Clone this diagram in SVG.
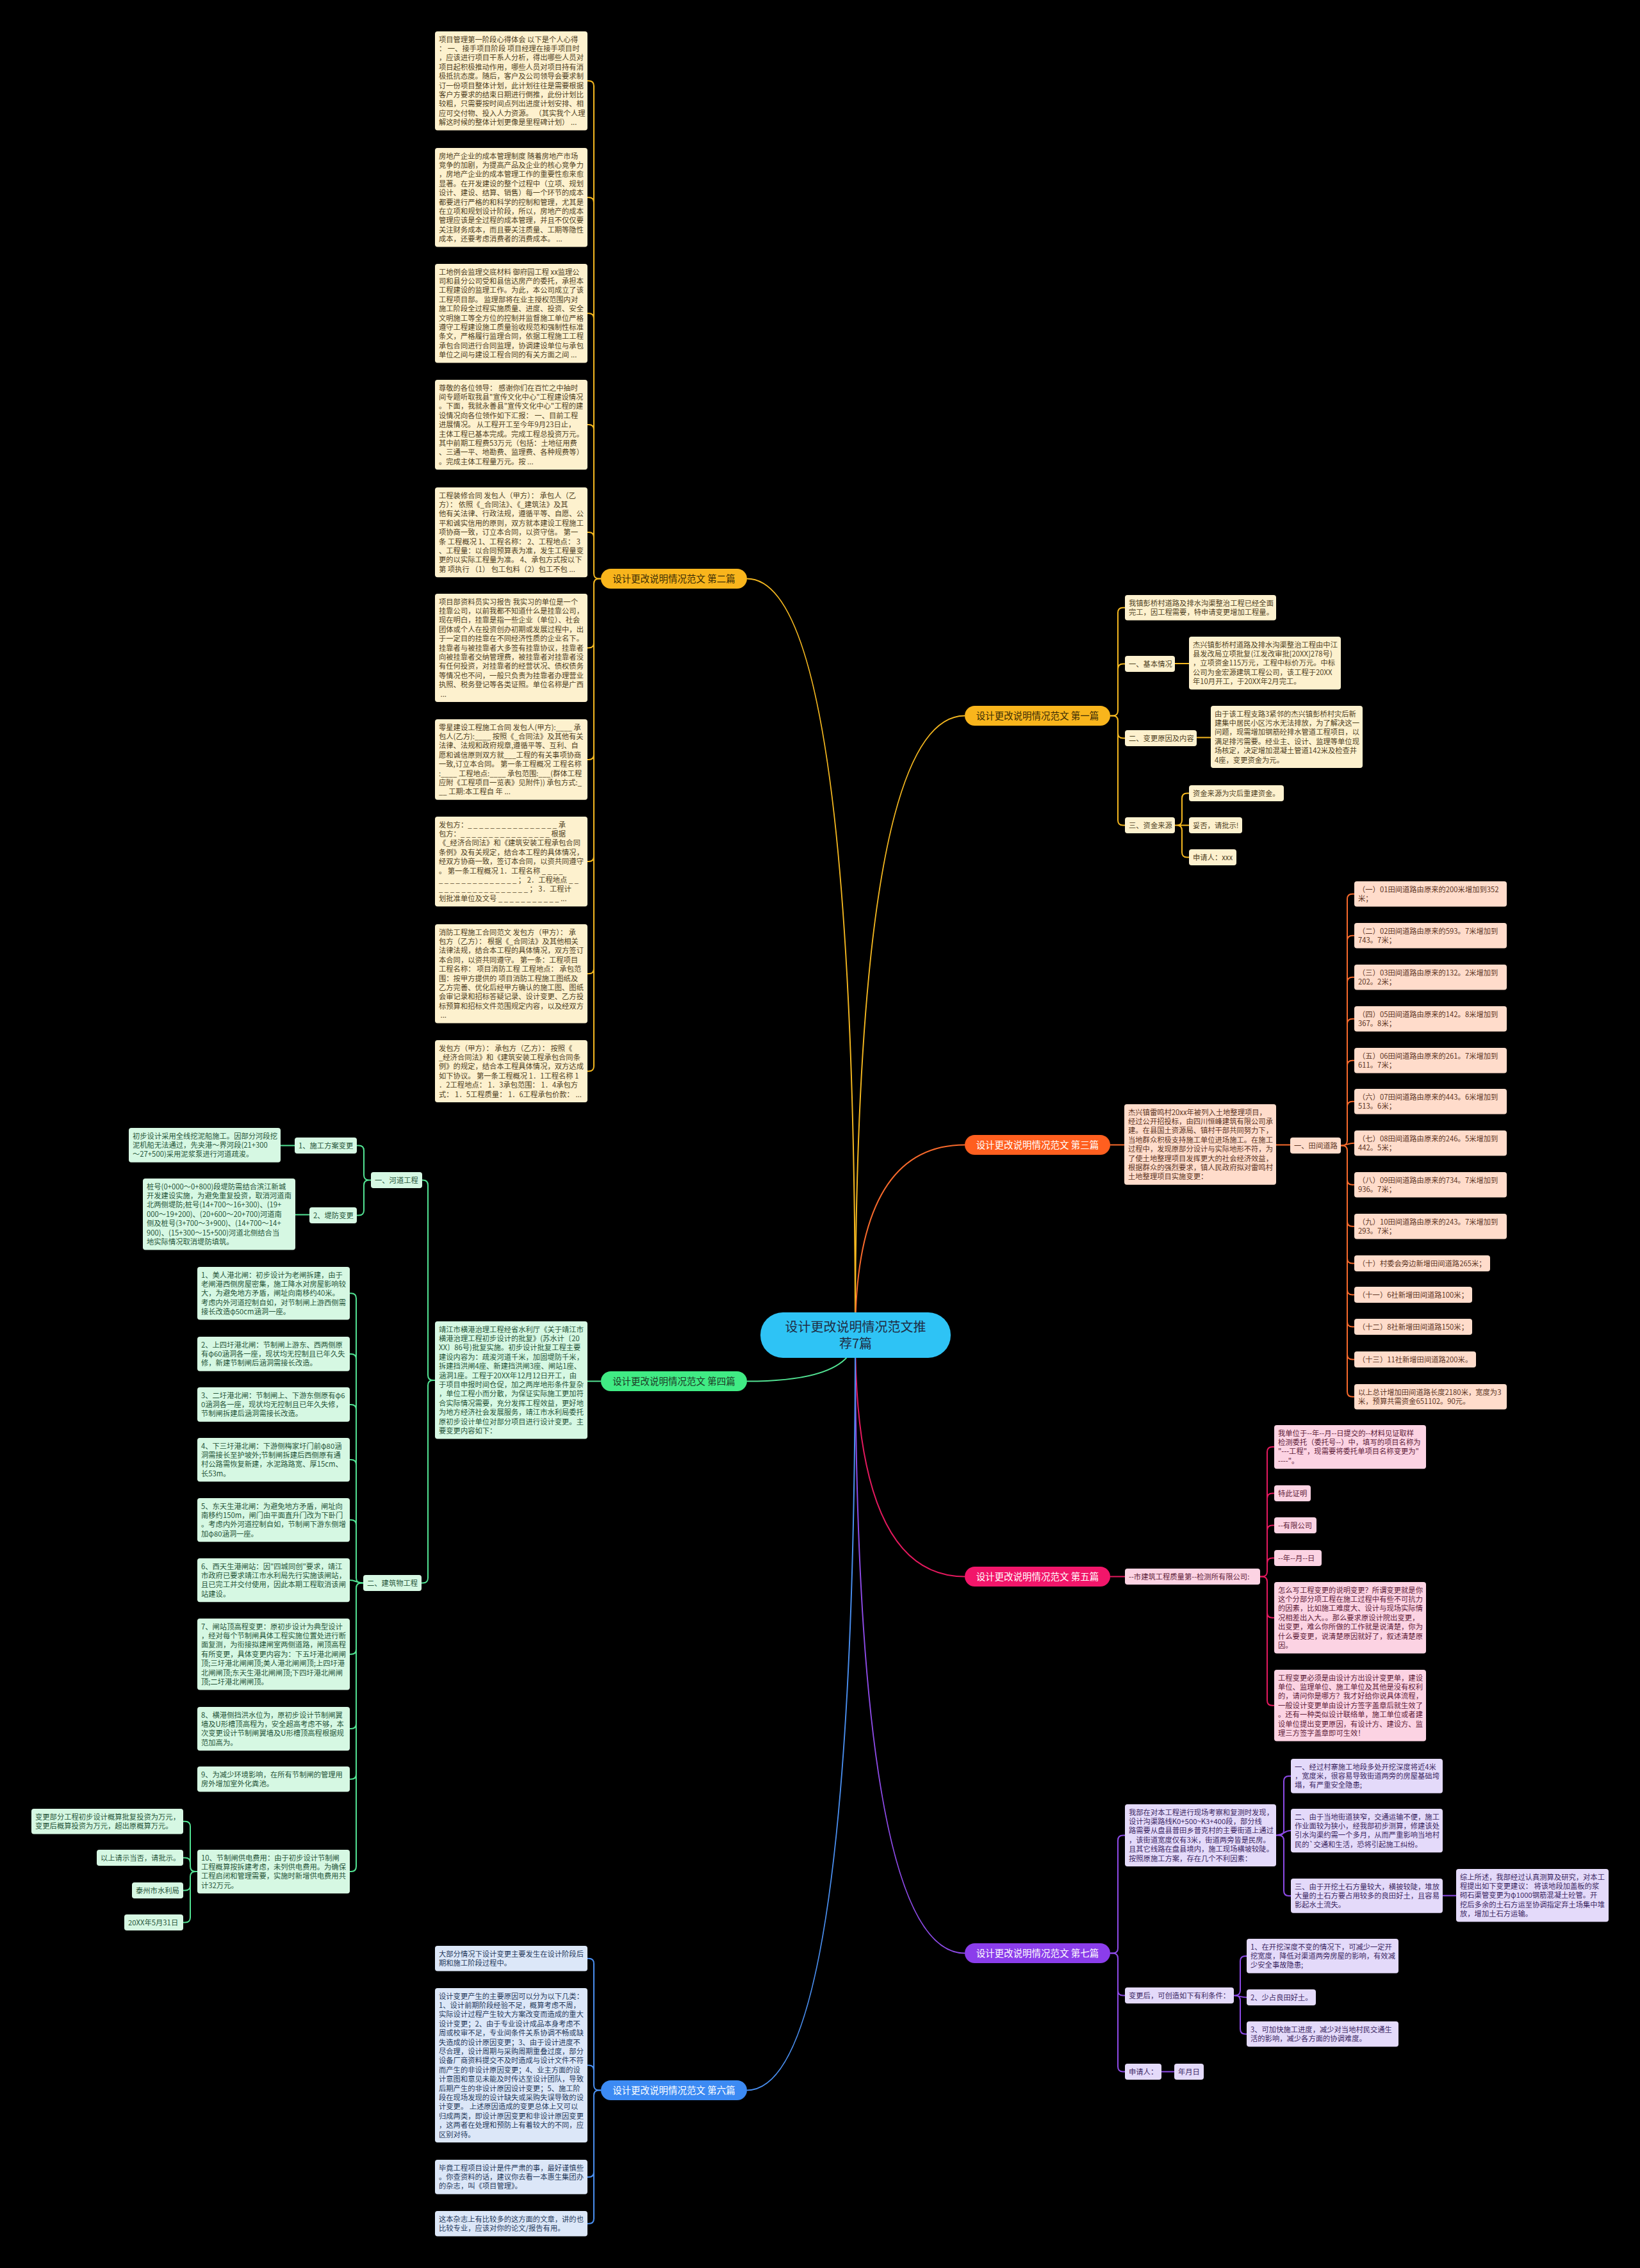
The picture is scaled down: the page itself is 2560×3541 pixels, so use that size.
<svg xmlns="http://www.w3.org/2000/svg" width="2560" height="3541" viewBox="0 0 2560 3541">
<style>
.t{font-family:"Noto Sans CJK SC","Noto Sans",sans-serif;font-size:11.3px}
.pl{font-family:"Noto Sans CJK SC","Noto Sans",sans-serif;font-size:14.5px;text-anchor:middle}
.ty{fill:#50421f}.tg{fill:#27553a}.to{fill:#5c3524}.tp{fill:#5e2139}.tu{fill:#3c2863}.tb{fill:#263a5c}
.by{fill:#FDF1CE}.bg{fill:#D6F8E3}.bo{fill:#FFDCCB}.bp{fill:#FCD3E3}.bu{fill:#E4DAFA}.bb{fill:#DCE7F8}
.c{fill:none;stroke-width:2}
.cy{stroke:#F5B820}.co{stroke:#F86A2C}.cp{stroke:#E5195F}.cu{stroke:#8E4BE8}.cb{stroke:#4A8FF0}.cg{stroke:#52E393}
</style>
<rect x="0" y="0" width="2560" height="3541" fill="#000"/>
<g id="connectors">
<path class="c cy" d="M1335 2085Q1335 903.5 1166 903.5"/>
<path class="c cy" d="M1335 2085Q1335 1117.5 1506 1117.5"/>
<path class="c co" d="M1335 2085Q1335 1787.5 1506 1787.5"/>
<path class="c cp" d="M1335 2085Q1335 2461.5 1506 2461.5"/>
<path class="c cu" d="M1335 2085Q1335 3049.5 1506 3049.5"/>
<path class="c cg" d="M1335 2085Q1335 2156.5 1166 2156.5"/>
<path class="c cb" d="M1335 2085Q1335 3263.5 1166 3263.5"/>
<path class="c cy" d="M938 903.5H935Q927 903.5 927 895.5V134.3Q927 126.3 919 126.3H917M927 316.3Q927 308.3 919 308.3H917M927 497.3Q927 489.3 919 489.3H917M927 671.1Q927 663.1 919 663.1H917M927 839.1Q927 831.1 919 831.1H917"/>
<path class="c cy" d="M938 903.5H935Q927 903.5 927 911.5V1664.5Q927 1672.5 919 1672.5H917M927 1003.5Q927 1011.5 919 1011.5H917M927 1177.9Q927 1185.9 919 1185.9H917M927 1337.1Q927 1345.1 919 1345.1H917M927 1512.3Q927 1520.3 919 1520.3H917"/>
<path class="c cy" d="M1733 1117.5H1737Q1745 1117.5 1745 1109.5V956.7Q1745 948.7 1753 948.7H1756M1745 1044.5Q1745 1036.5 1753 1036.5H1756"/>
<path class="c cy" d="M1733 1117.5H1737Q1745 1117.5 1745 1125.5V1280.5Q1745 1288.5 1753 1288.5H1756M1745 1144.5Q1745 1152.5 1753 1152.5H1756"/>
<path class="c cy" d="M1834 1036H1856M1868 1151.5H1890"/>
<path class="c cy" d="M1834 1288.5H1856M1834 1288.5H1837Q1845 1288.5 1845 1280.5V1246.5Q1845 1238.5 1853 1238.5H1856M1834 1288.5H1837Q1845 1288.5 1845 1296.5V1330.5Q1845 1338.5 1853 1338.5H1856"/>
<path class="c co" d="M1733 1787.5H1755M1992 1787.5H2014"/>
<path class="c co" d="M2092 1788.5H2095Q2103 1788.5 2103 1780.5V1403.7Q2103 1395.7 2111 1395.7H2114M2103 1468.7Q2103 1460.7 2111 1460.7H2114M2103 1533.7Q2103 1525.7 2111 1525.7H2114M2103 1598.7Q2103 1590.7 2111 1590.7H2114M2103 1663.7Q2103 1655.7 2111 1655.7H2114M2103 1727.7Q2103 1719.7 2111 1719.7H2114"/>
<path class="c co" d="M2092 1788.5C2103 1788.5 2103 1784.7 2114 1784.7"/>
<path class="c co" d="M2092 1788.5H2095Q2103 1788.5 2103 1796.5V2172.7Q2103 2180.7 2111 2180.7H2114M2103 1841.7Q2103 1849.7 2111 1849.7H2114M2103 1906.7Q2103 1914.7 2111 1914.7H2114M2103 1964.5Q2103 1972.5 2111 1972.5H2114M2103 2013.5Q2103 2021.5 2111 2021.5H2114M2103 2063.5Q2103 2071.5 2111 2071.5H2114M2103 2114.5Q2103 2122.5 2111 2122.5H2114"/>
<path class="c cp" d="M1733 2461.5H1756"/>
<path class="c cp" d="M1967 2461.5H1970Q1978 2461.5 1978 2453.5V2267Q1978 2259 1986 2259H1989M1978 2339.5Q1978 2331.5 1986 2331.5H1989M1978 2389.5Q1978 2381.5 1986 2381.5H1989M1978 2440.5Q1978 2432.5 1986 2432.5H1989"/>
<path class="c cp" d="M1967 2461.5H1970Q1978 2461.5 1978 2469.5V2654.7Q1978 2662.7 1986 2662.7H1989M1978 2517.7Q1978 2525.7 1986 2525.7H1989"/>
<path class="c cu" d="M1733 3049.5H1737Q1745 3049.5 1745 3041.5V2873.5Q1745 2865.5 1753 2865.5H1756"/>
<path class="c cu" d="M1733 3049.5H1737Q1745 3049.5 1745 3057.5V3226.5Q1745 3234.5 1753 3234.5H1756M1745 3107.5Q1745 3115.5 1753 3115.5H1756"/>
<path class="c cu" d="M1992 2865.5H1996Q2004 2865.5 2004 2857.5V2780.9Q2004 2772.9 2012 2772.9H2015M1992 2865.5C2004 2865.5 2004 2858.1 2015 2858.1M1992 2865.5H1996Q2004 2865.5 2004 2873.5V2951.9Q2004 2959.9 2012 2959.9H2015"/>
<path class="c cu" d="M2252 2959.6H2273"/>
<path class="c cu" d="M1924 3115.5H1928Q1936 3115.5 1936 3107.5V3061.9Q1936 3053.9 1944 3053.9H1946M1924 3115.5C1936 3115.5 1936 3118.5 1946 3118.5M1924 3115.5H1928Q1936 3115.5 1936 3123.5V3167.7Q1936 3175.7 1944 3175.7H1946"/>
<path class="c cu" d="M1811 3234.5H1833"/>
<path class="c cb" d="M938 3263.5H935Q927 3263.5 927 3255.5V3065.7Q927 3057.7 919 3057.7H917M927 3232.5Q927 3224.5 919 3224.5H917"/>
<path class="c cb" d="M938 3263.5H935Q927 3263.5 927 3271.5V3463.7Q927 3471.7 919 3471.7H917M927 3390.9Q927 3398.9 919 3398.9H917"/>
<path class="c cg" d="M938 2156.5H917"/>
<path class="c cg" d="M679 2155H676Q668 2155 668 2147V1850.5Q668 1842.5 660 1842.5H658M679 2155H676Q668 2155 668 2163V2463.5Q668 2471.5 660 2471.5H657"/>
<path class="c cg" d="M579 1842.5H576Q568 1842.5 568 1834.5V1796.5Q568 1788.5 560 1788.5H557M579 1842.5H576Q568 1842.5 568 1850.5V1889.5Q568 1897.5 560 1897.5H557"/>
<path class="c cg" d="M460 1788.5H438M483 1896.5H461"/>
<path class="c cg" d="M567 2471.5H564Q556 2471.5 556 2463.5V2027.3Q556 2019.3 548 2019.3H545M556 2121.9Q556 2113.9 548 2113.9H545M556 2200.9Q556 2192.9 548 2192.9H545M556 2287.1Q556 2279.1 548 2279.1H545M556 2381.1Q556 2373.1 548 2373.1H545M567 2471.5C556 2471.5 556 2467.1 545 2467.1"/>
<path class="c cg" d="M567 2471.5H564Q556 2471.5 556 2479.5V2914.1Q556 2922.1 548 2922.1H545M556 2574.7Q556 2582.7 548 2582.7H545M556 2691.1Q556 2699.1 548 2699.1H545M556 2769.7Q556 2777.7 548 2777.7H545"/>
<path class="c cg" d="M308 2922.1H305Q297 2922.1 297 2914.1V2851.7Q297 2843.7 289 2843.7H286M297 2908.5Q297 2900.5 289 2900.5H286M308 2922.1H305Q297 2922.1 297 2930.1V2993.5Q297 3001.5 289 3001.5H286M297 2943.5Q297 2951.5 289 2951.5H286"/>
</g>
<g id="root">
<rect x="1187" y="2049" width="297" height="71" rx="35" fill="#2EC3F5"/>
<text x="1335.5" y="2079" font-family="Noto Sans CJK SC, sans-serif" font-size="20" fill="#1f2d44" text-anchor="middle">设计更改说明情况范文推</text>
<text x="1335.5" y="2105" font-family="Noto Sans CJK SC, sans-serif" font-size="20" fill="#1f2d44" text-anchor="middle">荐7篇</text>
</g>
<g id="b2"><rect x="938" y="888" width="228" height="31" rx="15.5" fill="#F9B51C"/><text class="pl" x="1052" y="908.5" fill="#3a2c05">设计更改说明情况范文 第二篇</text></g>
<g id="b1"><rect x="1506" y="1102" width="227" height="31" rx="15.5" fill="#F9B51C"/><text class="pl" x="1619.5" y="1122.5" fill="#3a2c05">设计更改说明情况范文 第一篇</text></g>
<g id="b3"><rect x="1506" y="1772" width="227" height="31" rx="15.5" fill="#FF5F1F"/><text class="pl" x="1619.5" y="1792.5" fill="#fff">设计更改说明情况范文 第三篇</text></g>
<g id="b5"><rect x="1506" y="2446" width="227" height="31" rx="15.5" fill="#F2166A"/><text class="pl" x="1619.5" y="2466.5" fill="#fff">设计更改说明情况范文 第五篇</text></g>
<g id="b7"><rect x="1506" y="3034" width="227" height="31" rx="15.5" fill="#8B3DEB"/><text class="pl" x="1619.5" y="3054.5" fill="#fff">设计更改说明情况范文 第七篇</text></g>
<g id="b4"><rect x="938" y="2141" width="228" height="31" rx="15.5" fill="#40EB84"/><text class="pl" x="1052" y="2161.5" fill="#1c3a26">设计更改说明情况范文 第四篇</text></g>
<g id="b6"><rect x="938" y="3248" width="228" height="31" rx="15.5" fill="#3C8AF3"/><text class="pl" x="1052" y="3268.5" fill="#fff">设计更改说明情况范文 第六篇</text></g>

<g id="y-a"><rect class="by" x="679" y="49" width="238" height="154.6" rx="4"/><text class="t ty" x="685" y="65.6"><tspan>项目管理第一阶段心得体会 以下是个人心得</tspan><tspan x="685" dy="14.4">： 一、接手项目阶段 项目经理在接手项目时</tspan><tspan x="685" dy="14.4">，应该进行项目干系人分析，得出哪些人员对</tspan><tspan x="685" dy="14.4">项目起积极推动作用，哪些人员对项目持有消</tspan><tspan x="685" dy="14.4">极抵抗态度。随后，客户及公司领导会要求制</tspan><tspan x="685" dy="14.4">订一份项目整体计划，此计划往往是需要根据</tspan><tspan x="685" dy="14.4">客户方要求的结束日期进行倒推，此份计划比</tspan><tspan x="685" dy="14.4">较粗，只需要按时间点列出进度计划安排、相</tspan><tspan x="685" dy="14.4">应可交付物、投入人力资源。 （其实我个人理</tspan><tspan x="685" dy="14.4">解这时候的整体计划更像是里程碑计划） ...</tspan></text></g>
<g id="y-b"><rect class="by" x="679" y="231" width="238" height="154.6" rx="4"/><text class="t ty" x="685" y="247.6"><tspan>房地产企业的成本管理制度 随着房地产市场</tspan><tspan x="685" dy="14.4">竞争的加剧，为提高产品及企业的核心竞争力</tspan><tspan x="685" dy="14.4">，房地产企业的成本管理工作的重要性愈来愈</tspan><tspan x="685" dy="14.4">显著。在开发建设的整个过程中（立项、规划</tspan><tspan x="685" dy="14.4">设计、建设、结算、销售）每一个环节的成本</tspan><tspan x="685" dy="14.4">都要进行严格的和科学的控制和管理，尤其是</tspan><tspan x="685" dy="14.4">在立项和规划设计阶段，所以，房地产的成本</tspan><tspan x="685" dy="14.4">管理应该是全过程的成本管理，并且不仅仅要</tspan><tspan x="685" dy="14.4">关注财务成本，而且要关注质量、工期等隐性</tspan><tspan x="685" dy="14.4">成本，还要考虑消费者的消费成本。 ...</tspan></text></g>
<g id="y-c"><rect class="by" x="679" y="412" width="238" height="154.6" rx="4"/><text class="t ty" x="685" y="428.6"><tspan>工地例会监理交底材料 御府园工程 xx监理公</tspan><tspan x="685" dy="14.4">司和县分公司受和县信达房产的委托，承担本</tspan><tspan x="685" dy="14.4">工程建设的监理工作。为此，本公司成立了该</tspan><tspan x="685" dy="14.4">工程项目部。 监理部将在业主授权范围内对</tspan><tspan x="685" dy="14.4">施工阶段全过程实施质量、进度、投资、安全</tspan><tspan x="685" dy="14.4">文明施工等全方位的控制并监督施工单位严格</tspan><tspan x="685" dy="14.4">遵守工程建设施工质量验收规范和强制性标准</tspan><tspan x="685" dy="14.4">条文，严格履行监理合同，依据工程施工工程</tspan><tspan x="685" dy="14.4">承包合同进行合同监理，协调建设单位与承包</tspan><tspan x="685" dy="14.4">单位之间与建设工程合同的有关方面之间 ...</tspan></text></g>
<g id="y-d"><rect class="by" x="679" y="593" width="238" height="140.2" rx="4"/><text class="t ty" x="685" y="609.6"><tspan>尊敬的各位领导： 感谢你们在百忙之中抽时</tspan><tspan x="685" dy="14.4">间专题听取我县"宣传文化中心"工程建设情况</tspan><tspan x="685" dy="14.4">。下面，我就永善县"宣传文化中心"工程的建</tspan><tspan x="685" dy="14.4">设情况向各位领作如下汇报： 一、目前工程</tspan><tspan x="685" dy="14.4">进展情况。 从工程开工至今年9月23日止，</tspan><tspan x="685" dy="14.4">主体工程已基本完成。完成工程总投资万元。</tspan><tspan x="685" dy="14.4">其中前期工程费53万元（包括：土地征用费</tspan><tspan x="685" dy="14.4">、三通一平、地勘费、监理费、各种规费等）</tspan><tspan x="685" dy="14.4">。完成主体工程量万元。按 ...</tspan></text></g>
<g id="y-e"><rect class="by" x="679" y="761" width="238" height="140.2" rx="4"/><text class="t ty" x="685" y="777.6"><tspan>工程装修合同 发包人（甲方）： 承包人（乙</tspan><tspan x="685" dy="14.4">方）： 依照《_合同法》、《_建筑法》及其</tspan><tspan x="685" dy="14.4">他有关法律、行政法规，遵循平等、自愿、公</tspan><tspan x="685" dy="14.4">平和诚实信用的原则，双方就本建设工程施工</tspan><tspan x="685" dy="14.4">项协商一致，订立本合同，以资守信。 第一</tspan><tspan x="685" dy="14.4">条 工程概况 1、工程名称： 2、工程地点： 3</tspan><tspan x="685" dy="14.4">、工程量：以合同预算表为准，发生工程量变</tspan><tspan x="685" dy="14.4">更的以实际工程量为准。 4、承包方式按以下</tspan><tspan x="685" dy="14.4">第 项执行 （1） 包工包料（2）包工不包 ...</tspan></text></g>
<g id="y-f"><rect class="by" x="679" y="927" width="238" height="169" rx="4"/><text class="t ty" x="685" y="943.6"><tspan>项目部资料员实习报告 我实习的单位是一个</tspan><tspan x="685" dy="14.4">挂靠公司，以前我都不知道什么是挂靠公司，</tspan><tspan x="685" dy="14.4">现在明白，挂靠是指一些企业（单位）、社会</tspan><tspan x="685" dy="14.4">团体或个人在投资创办初期或发展过程中，出</tspan><tspan x="685" dy="14.4">于一定目的挂靠在不同经济性质的企业名下。</tspan><tspan x="685" dy="14.4">挂靠者与被挂靠者大多签有挂靠协议，挂靠者</tspan><tspan x="685" dy="14.4">向被挂靠者交纳管理费，被挂靠者对挂靠者没</tspan><tspan x="685" dy="14.4">有任何投资，对挂靠者的经营状况、债权债务</tspan><tspan x="685" dy="14.4">等情况也不问，一般只负责为挂靠者办理营业</tspan><tspan x="685" dy="14.4">执照、税务登记等各类证照。单位名称是广西</tspan><tspan x="685" dy="14.4"> ...</tspan></text></g>
<g id="y-g"><rect class="by" x="679" y="1123" width="238" height="125.8" rx="4"/><text class="t ty" x="685" y="1139.6"><tspan>零星建设工程施工合同 发包人(甲方):____ 承</tspan><tspan x="685" dy="14.4">包人(乙方):____ 按照《_合同法》及其他有关</tspan><tspan x="685" dy="14.4">法律、法规和政府规章,遵循平等、互利、自</tspan><tspan x="685" dy="14.4">愿和诚信原则双方就___工程的有关事项协商</tspan><tspan x="685" dy="14.4">一致,订立本合同。 第一条工程概况 工程名称</tspan><tspan x="685" dy="14.4">:____ 工程地点:____ 承包范围:___(群体工程</tspan><tspan x="685" dy="14.4">应附《工程项目一览表》见附件)) 承包方式:_</tspan><tspan x="685" dy="14.4">__ 工期:本工程自 年 ...</tspan></text></g>
<g id="y-h"><rect class="by" x="679" y="1275" width="238" height="140.2" rx="4"/><text class="t ty" x="685" y="1291.6"><tspan>发包方：_ _ _ _ _ _ _ _ _ _ _ _ _ _ _ _ 承</tspan><tspan x="685" dy="14.4">包方：_ _ _ _ _ _ _ _ _ _ _ _ _ _ _ _ 根据</tspan><tspan x="685" dy="14.4">《_经济合同法》和《建筑安装工程承包合同</tspan><tspan x="685" dy="14.4">条例》及有关规定，结合本工程的具体情况，</tspan><tspan x="685" dy="14.4">经双方协商一致，签订本合同，以资共同遵守</tspan><tspan x="685" dy="14.4">。 第一条工程概况 1．工程名称 _ _ _ _</tspan><tspan x="685" dy="14.4">_ _ _ _ _ _ _ _ _ _ _ _ _ _ ； 2．工程地点 _ _</tspan><tspan x="685" dy="14.4">_ _ _ _ _ _ _ _ _ _ _ _ _ _ _ _ ； 3．工程计</tspan><tspan x="685" dy="14.4">划批准单位及文号 _ _ _ _ _ _ _ _ _ _ _ ...</tspan></text></g>
<g id="y-i"><rect class="by" x="679" y="1443" width="238" height="154.6" rx="4"/><text class="t ty" x="685" y="1459.6"><tspan>消防工程施工合同范文 发包方（甲方）： 承</tspan><tspan x="685" dy="14.4">包方（乙方）： 根据《_合同法》及其他相关</tspan><tspan x="685" dy="14.4">法律法规，结合本工程的具体情况，双方签订</tspan><tspan x="685" dy="14.4">本合同，以资共同遵守。 第一条：工程项目</tspan><tspan x="685" dy="14.4">工程名称： 项目消防工程 工程地点： 承包范</tspan><tspan x="685" dy="14.4">围：按甲方提供的 项目消防工程施工图纸及</tspan><tspan x="685" dy="14.4">乙方完善、优化后经甲方确认的施工图、图纸</tspan><tspan x="685" dy="14.4">会审记录和招标答疑记录、设计变更、乙方投</tspan><tspan x="685" dy="14.4">标预算和招标文件范围规定内容，以及经双方</tspan><tspan x="685" dy="14.4"> ...</tspan></text></g>
<g id="y-j"><rect class="by" x="679" y="1624" width="238" height="97" rx="4"/><text class="t ty" x="685" y="1640.6"><tspan>发包方（甲方）： 承包方（乙方）： 按照《</tspan><tspan x="685" dy="14.4">_经济合同法》和《建筑安装工程承包合同条</tspan><tspan x="685" dy="14.4">例》的规定，结合本工程具体情况，双方达成</tspan><tspan x="685" dy="14.4">如下协议。 第一条工程概况 1．1工程名称 1</tspan><tspan x="685" dy="14.4">．2工程地点： 1．3承包范围： 1．4承包方</tspan><tspan x="685" dy="14.4">式： 1．5工程质量： 1．6工程承包价款： ...</tspan></text></g>

<g id="a1-0"><rect class="by" x="1756" y="929" width="236" height="39.4" rx="4"/><text class="t ty" x="1762" y="945.6"><tspan>我镇彭桥村道路及排水沟渠整治工程已经全面</tspan><tspan x="1762" dy="14.4">完工，因工程需要，特申请变更增加工程量。</tspan></text></g>
<g id="a1-1"><rect class="by" x="1756" y="1024" width="78" height="25" rx="4"/><text class="t ty" x="1762" y="1040.6">一、基本情况</text></g>
<g id="a1-1a"><rect class="by" x="1856" y="994" width="237" height="82.6" rx="4"/><text class="t ty" x="1862" y="1010.6"><tspan>杰兴镇彭桥村道路及排水沟渠整治工程由中江</tspan><tspan x="1862" dy="14.4">县发改局立项批复(江发改审批[20XX]278号)</tspan><tspan x="1862" dy="14.4">，立项资金115万元，工程中标价万元。中标</tspan><tspan x="1862" dy="14.4">公司为金宏源建筑工程公司，该工程于20XX</tspan><tspan x="1862" dy="14.4">年10月开工，于20XX年2月完工。</tspan></text></g>
<g id="a1-2"><rect class="by" x="1756" y="1140" width="112" height="25" rx="4"/><text class="t ty" x="1762" y="1156.6">二、变更原因及内容</text></g>
<g id="a1-2a"><rect class="by" x="1890" y="1102" width="237" height="97" rx="4"/><text class="t ty" x="1896" y="1118.6"><tspan>由于该工程支路3紧邻的杰兴镇彭桥村灾后新</tspan><tspan x="1896" dy="14.4">建集中居民小区污水无法排放，为了解决这一</tspan><tspan x="1896" dy="14.4">问题，现需增加钢筋砼排水管道工程项目，以</tspan><tspan x="1896" dy="14.4">满足排污需要。经业主、设计、监理等单位现</tspan><tspan x="1896" dy="14.4">场核定，决定增加混凝土管道142米及检查井</tspan><tspan x="1896" dy="14.4">4座，变更资金为元。</tspan></text></g>
<g id="a1-3"><rect class="by" x="1756" y="1276" width="78" height="25" rx="4"/><text class="t ty" x="1762" y="1292.6">三、资金来源</text></g>
<g id="a1-3a"><rect class="by" x="1856" y="1226" width="148" height="25" rx="4"/><text class="t ty" x="1862" y="1242.6">资金来源为灾后重建资金。</text></g>
<g id="a1-3b"><rect class="by" x="1856" y="1276" width="83" height="25" rx="4"/><text class="t ty" x="1862" y="1292.6">妥否，请批示!</text></g>
<g id="a1-3c"><rect class="by" x="1856" y="1326" width="74" height="25" rx="4"/><text class="t ty" x="1862" y="1342.6">申请人：xxx</text></g>

<g id="a3-0"><rect class="bo" x="1755" y="1724" width="237" height="125.8" rx="4"/><text class="t to" x="1761" y="1740.6"><tspan>杰兴镇雷鸣村20xx年被列入土地整理项目，</tspan><tspan x="1761" dy="14.4">经过公开招投标，由四川恒峰建筑有限公司承</tspan><tspan x="1761" dy="14.4">建。在县国土资源局、镇村干部共同努力下，</tspan><tspan x="1761" dy="14.4">当地群众积极支持施工单位进场施工。在施工</tspan><tspan x="1761" dy="14.4">过程中，发现原部分设计与实际地形不符，为</tspan><tspan x="1761" dy="14.4">了使土地整理项目发挥更大的社会经济效益，</tspan><tspan x="1761" dy="14.4">根据群众的强烈要求，镇人民政府拟对雷鸣村</tspan><tspan x="1761" dy="14.4">土地整理项目实施变更：</tspan></text></g>
<g id="a3-1"><rect class="bo" x="2014" y="1776" width="79" height="25" rx="4"/><text class="t to" x="2020" y="1792.6">一、田间道路</text></g>
<g id="a3-i1"><rect class="bo" x="2114" y="1376" width="238" height="39.4" rx="4"/><text class="t to" x="2120" y="1392.6"><tspan>（一）01田间道路由原来的200米增加到352</tspan><tspan x="2120" dy="14.4">米；</tspan></text></g>
<g id="a3-i2"><rect class="bo" x="2114" y="1441" width="238" height="39.4" rx="4"/><text class="t to" x="2120" y="1457.6"><tspan>（二）02田间道路由原来的593。7米增加到</tspan><tspan x="2120" dy="14.4">743。7米；</tspan></text></g>
<g id="a3-i3"><rect class="bo" x="2114" y="1506" width="238" height="39.4" rx="4"/><text class="t to" x="2120" y="1522.6"><tspan>（三）03田间道路由原来的132。2米增加到</tspan><tspan x="2120" dy="14.4">202。2米；</tspan></text></g>
<g id="a3-i4"><rect class="bo" x="2114" y="1571" width="238" height="39.4" rx="4"/><text class="t to" x="2120" y="1587.6"><tspan>（四）05田间道路由原来的142。8米增加到</tspan><tspan x="2120" dy="14.4">367。8米；</tspan></text></g>
<g id="a3-i5"><rect class="bo" x="2114" y="1636" width="238" height="39.4" rx="4"/><text class="t to" x="2120" y="1652.6"><tspan>（五）06田间道路由原来的261。7米增加到</tspan><tspan x="2120" dy="14.4">611。7米；</tspan></text></g>
<g id="a3-i6"><rect class="bo" x="2114" y="1700" width="238" height="39.4" rx="4"/><text class="t to" x="2120" y="1716.6"><tspan>（六）07田间道路由原来的443。6米增加到</tspan><tspan x="2120" dy="14.4">513。6米；</tspan></text></g>
<g id="a3-i7"><rect class="bo" x="2114" y="1765" width="238" height="39.4" rx="4"/><text class="t to" x="2120" y="1781.6"><tspan>（七）08田间道路由原来的246。5米增加到</tspan><tspan x="2120" dy="14.4">442。5米；</tspan></text></g>
<g id="a3-i8"><rect class="bo" x="2114" y="1830" width="238" height="39.4" rx="4"/><text class="t to" x="2120" y="1846.6"><tspan>（八）09田间道路由原来的734。7米增加到</tspan><tspan x="2120" dy="14.4">936。7米；</tspan></text></g>
<g id="a3-i9"><rect class="bo" x="2114" y="1895" width="238" height="39.4" rx="4"/><text class="t to" x="2120" y="1911.6"><tspan>（九）10田间道路由原来的243。7米增加到</tspan><tspan x="2120" dy="14.4">293。7米；</tspan></text></g>
<g id="a3-i10"><rect class="bo" x="2114" y="1960" width="212" height="25" rx="4"/><text class="t to" x="2120" y="1976.6">（十）村委会旁边新增田间道路265米；</text></g>
<g id="a3-i11"><rect class="bo" x="2114" y="2009" width="184" height="25" rx="4"/><text class="t to" x="2120" y="2025.6">（十一）6社新增田间道路100米；</text></g>
<g id="a3-i12"><rect class="bo" x="2114" y="2059" width="184" height="25" rx="4"/><text class="t to" x="2120" y="2075.6">（十二）8社新增田间道路150米；</text></g>
<g id="a3-i13"><rect class="bo" x="2114" y="2110" width="190" height="25" rx="4"/><text class="t to" x="2120" y="2126.6">（十三）11社新增田间道路200米。</text></g>
<g id="a3-i14"><rect class="bo" x="2114" y="2161" width="238" height="39.4" rx="4"/><text class="t to" x="2120" y="2177.6"><tspan>以上总计增加田间道路长度2180米，宽度为3</tspan><tspan x="2120" dy="14.4">米，预算共需资金651102。90元。</tspan></text></g>

<g id="a5-0"><rect class="bp" x="1756" y="2449" width="211" height="25" rx="4"/><text class="t tp" x="1762" y="2465.6">--市建筑工程质量第--检测所有限公司:</text></g>
<g id="a5-1"><rect class="bp" x="1989" y="2225" width="237" height="68.2" rx="4"/><text class="t tp" x="1995" y="2241.6"><tspan>我单位于--年--月--日提交的--材料见证取样</tspan><tspan x="1995" dy="14.4">检测委托（委托号--）中，填写的项目名称为</tspan><tspan x="1995" dy="14.4">"---工程"，现需要将委托单项目名称变更为"</tspan><tspan x="1995" dy="14.4">----"。</tspan></text></g>
<g id="a5-2"><rect class="bp" x="1989" y="2319" width="57" height="25" rx="4"/><text class="t tp" x="1995" y="2335.6">特此证明</text></g>
<g id="a5-3"><rect class="bp" x="1989" y="2369" width="66" height="25" rx="4"/><text class="t tp" x="1995" y="2385.6">--有限公司</text></g>
<g id="a5-4"><rect class="bp" x="1989" y="2420" width="74" height="25" rx="4"/><text class="t tp" x="1995" y="2436.6">--年--月--日</text></g>
<g id="a5-5"><rect class="bp" x="1989" y="2470" width="237" height="111.4" rx="4"/><text class="t tp" x="1995" y="2486.6"><tspan>怎么写工程变更的说明变更？所谓变更就是你</tspan><tspan x="1995" dy="14.4">这个分部分项工程在施工过程中有些不可抗力</tspan><tspan x="1995" dy="14.4">的因素，比如施工难度大、设计与现场实际情</tspan><tspan x="1995" dy="14.4">况相差出入大。。那么要求原设计院出变更，</tspan><tspan x="1995" dy="14.4">出变更，难么你所做的工作就是说清楚，你为</tspan><tspan x="1995" dy="14.4">什么要变更，说清楚原因就好了，叙述清楚原</tspan><tspan x="1995" dy="14.4">因。</tspan></text></g>
<g id="a5-6"><rect class="bp" x="1989" y="2607" width="237" height="111.4" rx="4"/><text class="t tp" x="1995" y="2623.6"><tspan>工程变更必须是由设计方出设计变更单，建设</tspan><tspan x="1995" dy="14.4">单位、监理单位、施工单位及其他是没有权利</tspan><tspan x="1995" dy="14.4">的，请问你是哪方？我才好给你说具体流程，</tspan><tspan x="1995" dy="14.4">一般设计变更单由设计方签字盖章后就生效了</tspan><tspan x="1995" dy="14.4">。还有一种类似设计联络单，施工单位或者建</tspan><tspan x="1995" dy="14.4">设单位提出变更原因，有设计方、建设方、监</tspan><tspan x="1995" dy="14.4">理三方签字盖章即可生效！</tspan></text></g>

<g id="a7-0"><rect class="bu" x="1756" y="2817" width="236" height="97" rx="4"/><text class="t tu" x="1762" y="2833.6"><tspan>我部在对本工程进行现场考察和复测时发现，</tspan><tspan x="1762" dy="14.4">设计沟渠路线K0+500~K3+400段，部分线</tspan><tspan x="1762" dy="14.4">路需要从盘县普田乡普克村的主要街道上通过</tspan><tspan x="1762" dy="14.4">，该街道宽度仅有3米，街道两旁皆是民房。</tspan><tspan x="1762" dy="14.4">且其它线路在盘县境内，施工现场横坡较陡。</tspan><tspan x="1762" dy="14.4">按照原施工方案，存在几个不利因素：</tspan></text></g>
<g id="a7-1"><rect class="bu" x="2015" y="2746" width="237" height="53.8" rx="4"/><text class="t tu" x="2021" y="2762.6"><tspan>一、经过村寨施工地段多处开挖深度将近4米</tspan><tspan x="2021" dy="14.4">，宽度米，很容易导致街道两旁的房屋基础垮</tspan><tspan x="2021" dy="14.4">塌，有严重安全隐患;</tspan></text></g>
<g id="a7-2"><rect class="bu" x="2015" y="2824" width="237" height="68.2" rx="4"/><text class="t tu" x="2021" y="2840.6"><tspan>二、由于当地街道狭窄，交通运输不便，施工</tspan><tspan x="2021" dy="14.4">作业面较为狭小，经我部初步测算，修建该处</tspan><tspan x="2021" dy="14.4">引水沟渠约需一个多月，从而严重影响当地村</tspan><tspan x="2021" dy="14.4">民的`交通和生活，恐将引起施工纠纷。</tspan></text></g>
<g id="a7-3"><rect class="bu" x="2015" y="2933" width="237" height="53.8" rx="4"/><text class="t tu" x="2021" y="2949.6"><tspan>三、由于开挖土石方量较大，横披较陡，堆放</tspan><tspan x="2021" dy="14.4">大量的土石方要占用较多的良田好土，且容易</tspan><tspan x="2021" dy="14.4">影起水土流失。</tspan></text></g>
<g id="a7-3a"><rect class="bu" x="2273" y="2918" width="238" height="82.6" rx="4"/><text class="t tu" x="2279" y="2934.6"><tspan>综上所述，我部经过认真测算及研究，对本工</tspan><tspan x="2279" dy="14.4">程提出如下变更建议： 将该地段加盖板的浆</tspan><tspan x="2279" dy="14.4">砌石渠管变更为φ1000钢筋混凝土砼管。开</tspan><tspan x="2279" dy="14.4">挖后多余的土石方运至协调指定弃土场集中堆</tspan><tspan x="2279" dy="14.4">放，增加土石方运输。</tspan></text></g>
<g id="a7-4"><rect class="bu" x="1756" y="3103" width="170" height="25" rx="4"/><text class="t tu" x="1762" y="3119.6">变更后，可创造如下有利条件：</text></g>
<g id="a7-4a"><rect class="bu" x="1946" y="3027" width="237" height="53.8" rx="4"/><text class="t tu" x="1952" y="3043.6"><tspan>1、在开挖深度不变的情况下，可减少一定开</tspan><tspan x="1952" dy="14.4">挖宽度，降低对渠道两旁房屋的影响，有效减</tspan><tspan x="1952" dy="14.4">少安全事故隐患;</tspan></text></g>
<g id="a7-4b"><rect class="bu" x="1946" y="3106" width="108" height="25" rx="4"/><text class="t tu" x="1952" y="3122.6">2、少占良田好土。</text></g>
<g id="a7-4c"><rect class="bu" x="1946" y="3156" width="237" height="39.4" rx="4"/><text class="t tu" x="1952" y="3172.6"><tspan>3、可加快施工进度，减少对当地村民交通生</tspan><tspan x="1952" dy="14.4">活的影响，减少各方面的协调难度。</tspan></text></g>
<g id="a7-5"><rect class="bu" x="1756" y="3222" width="57" height="25" rx="4"/><text class="t tu" x="1762" y="3238.6">申请人：</text></g>
<g id="a7-5a"><rect class="bu" x="1833" y="3222" width="46" height="25" rx="4"/><text class="t tu" x="1839" y="3238.6">年月日</text></g>

<g id="a6-1"><rect class="bb" x="679" y="3038" width="238" height="39.4" rx="4"/><text class="t tb" x="685" y="3054.6"><tspan>大部分情况下设计变更主要发生在设计阶段后</tspan><tspan x="685" dy="14.4">期和施工阶段过程中。</tspan></text></g>
<g id="a6-2"><rect class="bb" x="679" y="3104" width="238" height="241" rx="4"/><text class="t tb" x="685" y="3120.6"><tspan>设计变更产生的主要原因可以分为以下几类：</tspan><tspan x="685" dy="14.4">1、设计前期阶段经验不足，概算考虑不周，</tspan><tspan x="685" dy="14.4">实际设计过程产生较大方案改变而造成的重大</tspan><tspan x="685" dy="14.4">设计变更；2、由于专业设计成品本身考虑不</tspan><tspan x="685" dy="14.4">周或校审不足，专业间条件关系协调不畅或缺</tspan><tspan x="685" dy="14.4">失造成的设计原因变更；3、由于设计进度不</tspan><tspan x="685" dy="14.4">尽合理，设计周期与采购周期重叠过度，部分</tspan><tspan x="685" dy="14.4">设备厂商资料提交不及时造成与设计文件不符</tspan><tspan x="685" dy="14.4">而产生的非设计原因变更；4、业主方面的设</tspan><tspan x="685" dy="14.4">计意图和意见未能及时传达至设计团队，导致</tspan><tspan x="685" dy="14.4">后期产生的非设计原因设计变更；5、施工阶</tspan><tspan x="685" dy="14.4">段在现场发现的设计缺失或采购失误导致的设</tspan><tspan x="685" dy="14.4">计变更。 上述原因造成的变更总体上又可以</tspan><tspan x="685" dy="14.4">归成两类，即设计原因变更和非设计原因变更</tspan><tspan x="685" dy="14.4">，这两者在处理和预防上有着较大的不同，应</tspan><tspan x="685" dy="14.4">区别对待。</tspan></text></g>
<g id="a6-3"><rect class="bb" x="679" y="3372" width="238" height="53.8" rx="4"/><text class="t tb" x="685" y="3388.6"><tspan>毕竟工程项目设计是件严肃的事，最好谨慎些</tspan><tspan x="685" dy="14.4">。你查资料的话，建议你去看一本惠生集团办</tspan><tspan x="685" dy="14.4">的杂志，叫《项目管理》。</tspan></text></g>
<g id="a6-4"><rect class="bb" x="679" y="3452" width="238" height="39.4" rx="4"/><text class="t tb" x="685" y="3468.6"><tspan>这本杂志上有比较多的这方面的文章，讲的也</tspan><tspan x="685" dy="14.4">比较专业，应该对你的论文/报告有用。</tspan></text></g>

<g id="a4-0"><rect class="bg" x="679" y="2063" width="238" height="183.4" rx="4"/><text class="t tg" x="685" y="2079.6"><tspan>靖江市横港治理工程经省水利厅《关于靖江市</tspan><tspan x="685" dy="14.4">横港治理工程初步设计的批复》(苏水计〔20</tspan><tspan x="685" dy="14.4">XX〕86号)批复实施。初步设计批复工程主要</tspan><tspan x="685" dy="14.4">建设内容为：疏浚河道千米，加固堤防千米，</tspan><tspan x="685" dy="14.4">拆建挡洪闸4座、新建挡洪闸3座、闸站1座、</tspan><tspan x="685" dy="14.4">涵洞1座。工程于20XX年12月12日开工，由</tspan><tspan x="685" dy="14.4">于项目申报时间仓促，加之两岸地形条件复杂</tspan><tspan x="685" dy="14.4">，单位工程小而分散，为保证实际施工更加符</tspan><tspan x="685" dy="14.4">合实际情况需要，充分发挥工程效益，更好地</tspan><tspan x="685" dy="14.4">为地方经济社会发展服务，靖江市水利局委托</tspan><tspan x="685" dy="14.4">原初步设计单位对部分项目进行设计变更。主</tspan><tspan x="685" dy="14.4">要变更内容如下：</tspan></text></g>
<g id="a4-1"><rect class="bg" x="579" y="1830" width="80" height="25" rx="4"/><text class="t tg" x="585" y="1846.6">一、河道工程</text></g>
<g id="a4-1a"><rect class="bg" x="460" y="1776" width="97" height="25" rx="4"/><text class="t tg" x="466" y="1792.6">1、施工方案变更</text></g>
<g id="a4-1a1"><rect class="bg" x="201" y="1761" width="237" height="53.8" rx="4"/><text class="t tg" x="207" y="1777.6"><tspan>初步设计采用全线挖泥船施工。因部分河段挖</tspan><tspan x="207" dy="14.4">泥机船无法通过，先夹港～界河段(21+300</tspan><tspan x="207" dy="14.4">～27+500)采用泥浆泵进行河道疏浚。</tspan></text></g>
<g id="a4-1b"><rect class="bg" x="483" y="1885" width="74" height="25" rx="4"/><text class="t tg" x="489" y="1901.6">2、堤防变更</text></g>
<g id="a4-1b1"><rect class="bg" x="223" y="1840" width="238" height="111.4" rx="4"/><text class="t tg" x="229" y="1856.6"><tspan>桩号(0+000～0+800)段堤防需结合滨江新城</tspan><tspan x="229" dy="14.4">开发建设实施，为避免重复投资，取消河道南</tspan><tspan x="229" dy="14.4">北两侧堤防;桩号(14+700～16+300)、(19+</tspan><tspan x="229" dy="14.4">000～19+200)、(20+600～20+700)河道南</tspan><tspan x="229" dy="14.4">侧及桩号(3+700～3+900)、(14+700～14+</tspan><tspan x="229" dy="14.4">900)、(15+300～15+500)河道北侧结合当</tspan><tspan x="229" dy="14.4">地实际情况取消堤防填筑。</tspan></text></g>
<g id="a4-2"><rect class="bg" x="567" y="2459" width="91" height="25" rx="4"/><text class="t tg" x="573" y="2475.6">二、建筑物工程</text></g>
<g id="a4-2-1"><rect class="bg" x="308" y="1978" width="238" height="82.6" rx="4"/><text class="t tg" x="314" y="1994.6"><tspan>1、美人港北闸：初步设计为老闸拆建，由于</tspan><tspan x="314" dy="14.4">老闸港西侧房屋密集，施工降水对房屋影响较</tspan><tspan x="314" dy="14.4">大，为避免地方矛盾，闸址向南移约40米。</tspan><tspan x="314" dy="14.4">考虑内外河道控制自如，对节制闸上游西侧需</tspan><tspan x="314" dy="14.4">接长改造φ50cm涵洞一座。</tspan></text></g>
<g id="a4-2-2"><rect class="bg" x="308" y="2087" width="238" height="53.8" rx="4"/><text class="t tg" x="314" y="2103.6"><tspan>2、上四圩港北闸：节制闸上游东、西两侧原</tspan><tspan x="314" dy="14.4">有φ60涵洞各一座，现状均无控制且已年久失</tspan><tspan x="314" dy="14.4">修，新建节制闸后涵洞需接长改造。</tspan></text></g>
<g id="a4-2-3"><rect class="bg" x="308" y="2166" width="238" height="53.8" rx="4"/><text class="t tg" x="314" y="2182.6"><tspan>3、二圩港北闸：节制闸上、下游东侧原有φ6</tspan><tspan x="314" dy="14.4">0涵洞各一座，现状均无控制且已年久失修，</tspan><tspan x="314" dy="14.4">节制闸拆建后涵洞需接长改造。</tspan></text></g>
<g id="a4-2-4"><rect class="bg" x="308" y="2245" width="238" height="68.2" rx="4"/><text class="t tg" x="314" y="2261.6"><tspan>4、下三圩港北闸：下游侧梅家圩门前φ80涵</tspan><tspan x="314" dy="14.4">洞需接长至护坡外;节制闸拆建后西侧原有通</tspan><tspan x="314" dy="14.4">村公路需恢复新建，水泥路路宽、厚15cm、</tspan><tspan x="314" dy="14.4">长53m。</tspan></text></g>
<g id="a4-2-5"><rect class="bg" x="308" y="2339" width="238" height="68.2" rx="4"/><text class="t tg" x="314" y="2355.6"><tspan>5、东天生港北闸：为避免地方矛盾，闸址向</tspan><tspan x="314" dy="14.4">南移约150m，闸门由平面直升门改为下卧门</tspan><tspan x="314" dy="14.4">。考虑内外河道控制自如，节制闸下游东侧增</tspan><tspan x="314" dy="14.4">加φ80涵洞一座。</tspan></text></g>
<g id="a4-2-6"><rect class="bg" x="308" y="2433" width="238" height="68.2" rx="4"/><text class="t tg" x="314" y="2449.6"><tspan>6、西天生港闸站：因"四城同创"要求，靖江</tspan><tspan x="314" dy="14.4">市政府已要求靖江市水利局先行实施该闸站，</tspan><tspan x="314" dy="14.4">且已完工并交付使用，因此本期工程取消该闸</tspan><tspan x="314" dy="14.4">站建设。</tspan></text></g>
<g id="a4-2-7"><rect class="bg" x="308" y="2527" width="238" height="111.4" rx="4"/><text class="t tg" x="314" y="2543.6"><tspan>7、闸站顶高程变更：原初步设计为典型设计</tspan><tspan x="314" dy="14.4">，经对每个节制闸具体工程实施位置处进行断</tspan><tspan x="314" dy="14.4">面复测，为衔接拟建闸室两侧道路，闸顶高程</tspan><tspan x="314" dy="14.4">有所变更，具体变更内容为：下五圩港北闸闸</tspan><tspan x="314" dy="14.4">顶;三圩港北闸闸顶;美人港北闸闸顶;上四圩港</tspan><tspan x="314" dy="14.4">北闸闸顶;东天生港北闸闸顶;下四圩港北闸闸</tspan><tspan x="314" dy="14.4">顶;二圩港北闸闸顶。</tspan></text></g>
<g id="a4-2-8"><rect class="bg" x="308" y="2665" width="238" height="68.2" rx="4"/><text class="t tg" x="314" y="2681.6"><tspan>8、横港侧挡洪水位为，原初步设计节制闸翼</tspan><tspan x="314" dy="14.4">墙及U形槽顶高程为，安全超高考虑不够，本</tspan><tspan x="314" dy="14.4">次变更设计节制闸翼墙及U形槽顶高程根据规</tspan><tspan x="314" dy="14.4">范加高为。</tspan></text></g>
<g id="a4-2-9"><rect class="bg" x="308" y="2758" width="238" height="39.4" rx="4"/><text class="t tg" x="314" y="2774.6"><tspan>9、为减少环境影响，在所有节制闸的管理用</tspan><tspan x="314" dy="14.4">房外增加室外化粪池。</tspan></text></g>
<g id="a4-2-10"><rect class="bg" x="308" y="2888" width="238" height="68.2" rx="4"/><text class="t tg" x="314" y="2904.6"><tspan>10、节制闸供电费用：由于初步设计节制闸</tspan><tspan x="314" dy="14.4">工程概算按拆建考虑，未列供电费用。为确保</tspan><tspan x="314" dy="14.4">工程启闭和管理需要，实施时新增供电费用共</tspan><tspan x="314" dy="14.4">计32万元。</tspan></text></g>
<g id="a4-3"><rect class="bg" x="49" y="2824" width="237" height="39.4" rx="4"/><text class="t tg" x="55" y="2840.6"><tspan>变更部分工程初步设计概算批复投资为万元，</tspan><tspan x="55" dy="14.4">变更后概算投资为万元，超出原概算万元。</tspan></text></g>
<g id="a4-4"><rect class="bg" x="151" y="2888" width="135" height="25" rx="4"/><text class="t tg" x="157" y="2904.6">以上请示当否，请批示。</text></g>
<g id="a4-5"><rect class="bg" x="206" y="2939" width="80" height="25" rx="4"/><text class="t tg" x="212" y="2955.6">泰州市水利局</text></g>
<g id="a4-6"><rect class="bg" x="194" y="2989" width="92" height="25" rx="4"/><text class="t tg" x="200" y="3005.6">20XX年5月31日</text></g>
</svg>
